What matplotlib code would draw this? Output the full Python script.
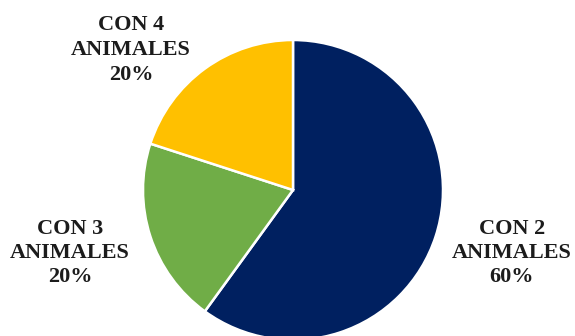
import matplotlib.pyplot as plt

categories = ["CON 2\nANIMALES", "CON 3\nANIMALES", "CON 4\nANIMALES"]
shares = [60, 20, 20]
colors = ["#002060", "#70AD47", "#FFC000"]

# label anchor points in figure pixels (x, y from top)
label_pos = [(512, 253), (70, 253), (131, 50)]

W, H = 575, 336
fig = plt.figure(figsize=(W / 100, H / 100), dpi=100)

# pie centre ~ (293, 190) px, radius ~150 px
cx, cy, r = 293, 190, 150
ax = fig.add_axes([(cx - r) / W, (H - cy - r) / H, 2 * r / W, 2 * r / H])
ax.pie(
    shares,
    colors=colors,
    startangle=90,
    counterclock=False,
    radius=1.0,
    wedgeprops=dict(edgecolor="white", linewidth=1.8),
)
ax.set_xlim(-1, 1)
ax.set_ylim(-1, 1)
ax.set_aspect("equal")
ax.axis("off")

for name, val, (px, py) in zip(categories, shares, label_pos):
    fig.text(
        px / W,
        1 - py / H,
        f"{name}\n{val}%",
        ha="center",
        va="center",
        fontsize=16,
        fontweight="bold",
        family="Liberation Serif",
        color="#1c1c1c",
        linespacing=1.3,
    )

fig.savefig("out.png", dpi=100)
